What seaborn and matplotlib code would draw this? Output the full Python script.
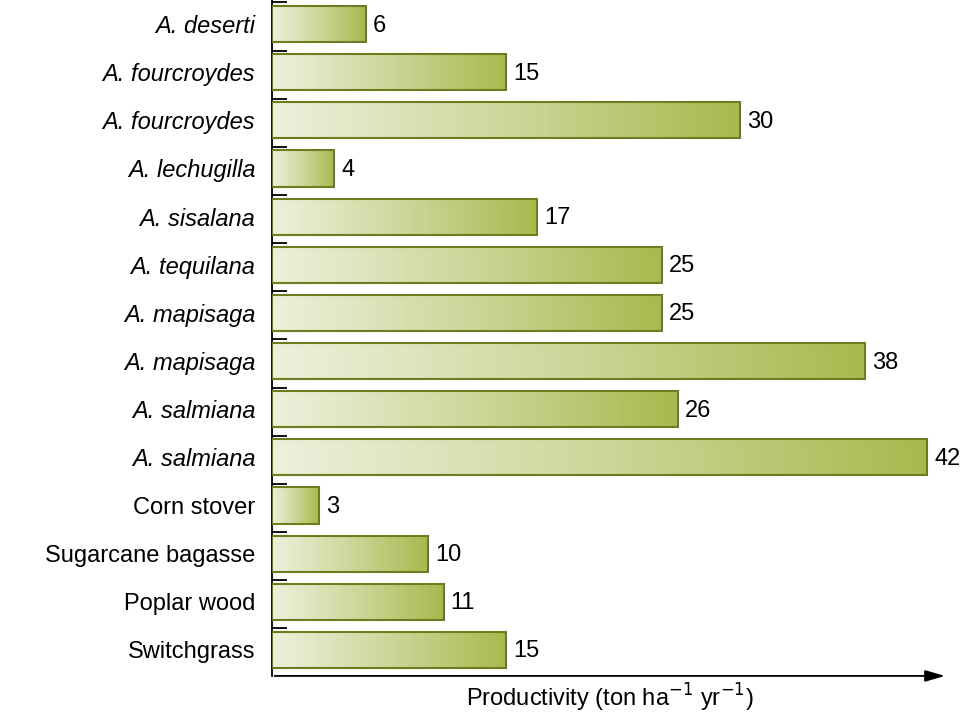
import matplotlib
matplotlib.use("Agg")
import matplotlib.pyplot as plt
import numpy as np
import pandas as pd
import seaborn as sns
from matplotlib.colors import LinearSegmentedColormap

species = ["A. deserti", "A. fourcroydes", "A. fourcroydes", "A. lechugilla", "A. sisalana",
           "A. tequilana", "A. mapisaga", "A. mapisaga", "A. salmiana", "A. salmiana",
           "Corn stover", "Sugarcane bagasse", "Poplar wood", "Switchgrass"]
productivity = [6, 15, 30, 4, 17, 25, 25, 38, 26, 42, 3, 10, 11, 15]
italic = [True] * 10 + [False] * 4

plt.rcParams["font.family"] = "Liberation Sans"
df = pd.DataFrame({"pos": [str(i) for i in range(len(species))], "val": productivity})

fig = plt.figure(figsize=(9.71, 7.13), dpi=100)
ax = fig.add_axes([0.280, 0.052, 0.696, 0.948])
sns.barplot(data=df, x="val", y="pos", orient="h", width=0.75, fill=False,
            edgecolor="#6b7d1e", linewidth=1.5, ax=ax, zorder=3)

cmap = LinearSegmentedColormap.from_list("g", ["#eef0dc", "#cdd79a", "#a7ba4e"])
grad = np.linspace(0, 1, 256).reshape(1, -1)
for p in ax.patches:
    x0, y0, w, h = p.get_x(), p.get_y(), p.get_width(), p.get_height()
    ax.imshow(grad, cmap=cmap, aspect="auto", extent=[x0, x0 + w, y0 + h, y0], zorder=2)
    ax.text(x0 + w + 0.45, y0 + h / 2 + 0.03, f"{w:g}", va="center", ha="left", fontsize=17)

ax.set_xlim(0, 43.3)
ax.set_ylim(13.54, -0.5)
ax.set_yticks(range(len(species)))
ax.set_yticklabels(species, fontsize=17)
for lab, it in zip(ax.get_yticklabels(), italic):
    if it:
        lab.set_style("italic")
ax.tick_params(axis="y", which="major", length=0, pad=12)
ax.set_yticks(np.arange(-0.45, 12.6, 1.0), minor=True)
ax.tick_params(axis="y", which="minor", direction="in", length=11, width=1.3)
ax.set_xticks([])
ax.set_xlabel("Productivity (ton ha$^{-1}$ yr$^{-1}$)", fontsize=17, labelpad=4)
ax.set_ylabel("")
for s in ["top", "right", "bottom"]:
    ax.spines[s].set_visible(False)
ax.spines["left"].set_linewidth(1.3)
ax.annotate("", xy=(1.0, 0), xytext=(0, 0), xycoords="axes fraction",
            arrowprops=dict(arrowstyle="-|>,head_length=1.2,head_width=0.35",
                            color="black", lw=1.3))

fig.savefig("out.png", dpi=100)
